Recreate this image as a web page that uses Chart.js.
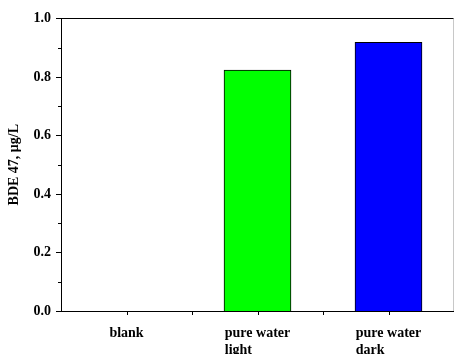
<!DOCTYPE html>
<html>
<head>
<meta charset="utf-8">
<script src="https://cdn.jsdelivr.net/npm/chart.js@4/dist/chart.umd.min.js"></script>
<style>
  html, body { margin: 0; padding: 0; background: #fff; }
  #wrap { width: 454px; height: 354px; }
</style>
</head>
<body>
<div id="wrap"><canvas id="grafico" width="454" height="354"></canvas></div>
<script>
const categorias = ['blank', ['pure water', 'light'], ['pure water', 'dark']];
const valores = [0, 0.823, 0.918];
const colores = ['#ffffff', '#00ff00', '#0000ff'];
const yTicks = [0, 0.1, 0.2, 0.3, 0.4, 0.5, 0.6, 0.7, 0.8, 0.9, 1.0];

const fuente = 'Liberation Serif, Times New Roman, serif';

// marcas de los ejes, marco y etiquetas del eje x (alineadas a la izquierda)
const marcas = {
  id: 'marcas',
  afterDraw(chart) {
    const ctx = chart.ctx;
    const a = chart.chartArea;
    const x = chart.scales.x, y = chart.scales.y;
    ctx.save();
    ctx.strokeStyle = '#000';
    ctx.lineWidth = 1;
    ctx.beginPath();
    yTicks.forEach((v, i) => {
      const py = Math.round(y.getPixelForValue(v)) + 0.5;
      const len = i % 2 === 0 ? 5 : 3;
      ctx.moveTo(a.left - len, py);
      ctx.lineTo(a.left, py);
    });
    for (let i = 0; i < categorias.length; i++) {
      const c = Math.round(x.getPixelForValue(i)) + 0.5;
      ctx.moveTo(c, a.bottom);
      ctx.lineTo(c, a.bottom + 4);
      if (i > 0) {
        const b = Math.round((x.getPixelForValue(i) + x.getPixelForValue(i - 1)) / 2) + 0.5;
        ctx.moveTo(b, a.bottom);
        ctx.lineTo(b, a.bottom + 4);
      }
    }
    ctx.moveTo(a.left, Math.round(a.top) + 0.5);
    ctx.lineTo(a.right, Math.round(a.top) + 0.5);
    ctx.stroke();
    ctx.strokeStyle = '#c8c8c8';
    ctx.beginPath();
    ctx.moveTo(a.right - 0.5, a.top);
    ctx.lineTo(a.right - 0.5, a.bottom);
    ctx.stroke();

    ctx.fillStyle = '#000';
    ctx.font = 'bold 14px ' + fuente;
    ctx.textAlign = 'left';
    ctx.textBaseline = 'alphabetic';
    categorias.forEach((lab, i) => {
      const lineas = Array.isArray(lab) ? lab : [lab];
      const ancho = Math.max(...lineas.map(t => ctx.measureText(t).width));
      const x0 = x.getPixelForValue(i) - ancho / 2;
      lineas.forEach((t, j) => {
        ctx.fillText(t, x0, a.bottom + 26 + j * 16.5);
      });
    });
    ctx.restore();
  }
};

new Chart(document.getElementById('grafico'), {
  type: 'bar',
  data: {
    labels: categorias,
    datasets: [{
      data: valores,
      backgroundColor: colores,
      borderColor: '#000',
      borderWidth: 1,
      barThickness: 67
    }]
  },
  options: {
    responsive: false,
    animation: false,
    events: [],
    layout: { padding: { left: 0, top: 18, right: 0, bottom: 0 } },
    plugins: { legend: { display: false }, tooltip: { enabled: false } },
    scales: {
      x: {
        grid: { display: false, drawTicks: false },
        border: { display: true, color: '#000', width: 1 },
        ticks: { display: false },
        afterFit(s) { s.height = 43; }
      },
      y: {
        min: 0,
        max: 1,
        grid: { display: false, drawTicks: false },
        border: { display: true, color: '#000', width: 1 },
        ticks: {
          stepSize: 0.2,
          color: '#000',
          padding: 10,
          font: { family: fuente, size: 14, weight: 'bold' },
          callback: v => v.toFixed(1)
        },
        title: {
          display: true,
          text: 'BDE 47, μg/L',
          color: '#000',
          padding: { top: 6, bottom: 0 },
          font: { family: fuente, size: 14, weight: 'bold' }
        },
        afterFit(s) { s.width = 61; }
      }
    }
  },
  plugins: [marcas]
});
</script>
</body>
</html>
